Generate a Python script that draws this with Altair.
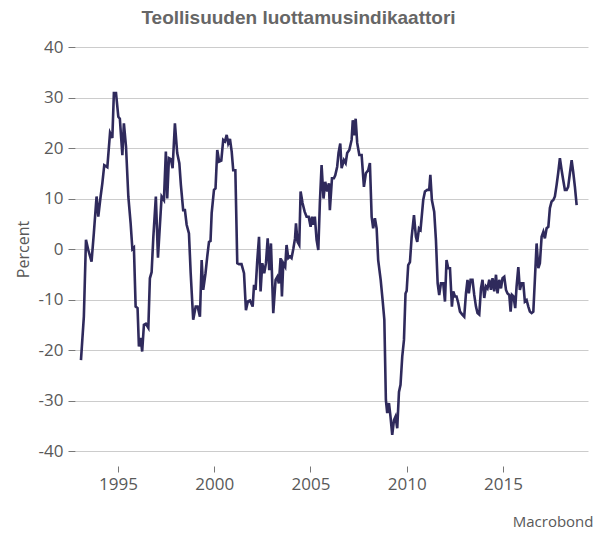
import altair as alt
import pandas as pd

# Values (decimal year, percent balance)
yrs_a = [1993.08, 1993.23, 1993.34, 1993.46, 1993.63, 1993.75, 1993.89, 1993.98, 1994.10, 1994.19,
         1994.29, 1994.45, 1994.59, 1994.71, 1994.79, 1994.90, 1995.02, 1995.10, 1995.23, 1995.31,
         1995.42, 1995.54, 1995.66, 1995.75, 1995.83, 1995.92, 1996.02, 1996.09, 1996.18, 1996.26,
         1996.35, 1996.45, 1996.58, 1996.66, 1996.75, 1996.84, 1996.97, 1997.08]
val_a = [-22, -13.4, 1.8, -0.2, -2.5, 3.2, 10.4, 6.4, 10.4, 13,
         16.6, 16.2, 23, 22, 30.9, 30.9, 26.2, 25.8, 18.6, 24.9,
         20.3, 10.4, 5.1, 0, 0.3, -11.4, -11.7, -19.3, -17.6, -20.3,
         -15, -14.8, -15.6, -5.8, -4.6, 2.4, 10.4, -1.7]

yrs_b = [1997.27, 1997.39, 1997.49, 1997.56, 1997.65, 1997.75, 1997.84, 1997.96, 1998.08, 1998.19,
         1998.27, 1998.39, 1998.48, 1998.57, 1998.69, 1998.78, 1998.91, 1999.04, 1999.14, 1999.26,
         1999.35, 1999.43, 1999.55, 1999.64, 1999.73, 1999.81, 1999.87, 1999.99, 2000.07, 2000.16,
         2000.26, 2000.37, 2000.47, 2000.56, 2000.65, 2000.73, 2000.82, 2000.91, 2000.99, 2001.10,
         2001.20, 2001.29, 2001.42, 2001.55, 2001.65, 2001.75, 2001.86]
val_b = [10.4, 9.7, 19.3, 10, 18, 17.8, 16, 24.9, 19, 17,
         12.7, 7.7, 7.7, 4.8, 3.1, -4.8, -14, -11.4, -11.4, -13.4,
         -2.2, -8.1, -4.8, -1.5, 1.4, 1.6, 7.1, 11.7, 12, 19.6,
         17.3, 17.5, 21.6, 21.3, 22.6, 20.9, 21.8, 19.3, 15.6, 15.6,
         -2.8, -3, -3, -4.8, -12.1, -10.4, -10.2]

yrs_c = [2002.00, 2002.07, 2002.15, 2002.24, 2002.33, 2002.41, 2002.50, 2002.60, 2002.69, 2002.78,
         2002.86, 2002.95, 2003.07, 2003.19, 2003.28, 2003.36, 2003.45, 2003.52, 2003.59, 2003.69,
         2003.76, 2003.85, 2003.94, 2004.02, 2004.11, 2004.20, 2004.25, 2004.33, 2004.42, 2004.49,
         2004.59, 2004.70, 2004.80, 2004.91, 2005.01, 2005.08, 2005.15, 2005.23, 2005.32, 2005.41,
         2005.49, 2005.58, 2005.68, 2005.77, 2005.87, 2005.96, 2006.01, 2006.12, 2006.22, 2006.29,
         2006.39, 2006.46, 2006.55]
val_c = [-11.4, -7.1, -8.1, -2.2, 2.4, -8.4, -2.8, -4.8, -2.8, 2.1,
         -4.2, 1.1, -12.7, -6.1, -5.5, -6.8, -1.8, -9.4, -2.8, -3.5,
         0.8, -1.8, -1.5, -1.8, 0, 2.1, 5.1, 1.4, 0.8, 11.4,
         9.1, 7.4, 6.4, 6.4, 4.4, 6.4, 4.8, 6.4, 1.8, -0.2,
         9.1, 16.6, 10, 13.3, 11.4, 13, 7.7, 14, 14, 14.6,
         16.3, 19, 20.9]

yrs_d = [2006.62, 2006.74, 2006.83, 2006.91, 2007.02, 2007.14, 2007.20, 2007.27, 2007.35, 2007.43,
         2007.54, 2007.66, 2007.78, 2007.88, 2008.00, 2008.09, 2008.18, 2008.26, 2008.35, 2008.44,
         2008.52, 2008.65, 2008.75, 2008.84, 2008.92, 2008.99, 2009.08, 2009.16, 2009.25, 2009.34,
         2009.42, 2009.51, 2009.60, 2009.68, 2009.77, 2009.86, 2009.94, 2010.00, 2010.08, 2010.17,
         2010.26, 2010.38, 2010.48, 2010.55, 2010.64]
val_d = [16, 17.6, 17, 19, 19.6, 21.6, 25.5, 22.5, 25.8, 21,
         18.6, 18.6, 12.3, 15, 15.6, 17, 6.4, 4.1, 6.1, 4.1,
         -2.2, -6.1, -10.1, -14, -29.9, -32.5, -30.5, -33.2, -36.8, -33.9,
         -33.2, -35.5, -28.3, -26.9, -21.3, -18, -8.8, -8.3, -3.2, -2.6,
         2.4, 6.7, 2.4, 1.4, 4.1]

yrs_e = [2010.72, 2010.86, 2010.95, 2011.07, 2011.17, 2011.23, 2011.31, 2011.43, 2011.52, 2011.61,
         2011.69, 2011.78, 2011.90, 2011.99, 2012.07, 2012.16, 2012.25, 2012.35, 2012.42, 2012.51,
         2012.59, 2012.68, 2012.77, 2012.89, 2012.99, 2013.08, 2013.16, 2013.23, 2013.32, 2013.42,
         2013.51, 2013.60, 2013.68, 2013.77, 2013.86, 2013.94, 2014.03, 2014.12, 2014.20, 2014.29,
         2014.38, 2014.46, 2014.55, 2014.64, 2014.72, 2014.81, 2014.90, 2014.98, 2015.07, 2015.16,
         2015.24, 2015.33, 2015.40, 2015.47, 2015.55, 2015.64, 2015.71, 2015.80]
val_e = [3.8, 9.7, 11.4, 11.7, 11.7, 14.7, 9.7, 7.4, 1.8, -6.8,
         -9.1, -6.8, -6.8, -10.4, -2.2, -3.8, -3.8, -11.4, -8.4, -9.4,
         -9.4, -10.7, -12.4, -13, -13.4, -8.8, -6.1, -8.8, -6.1, -6.1,
         -9.1, -11.4, -12.7, -13, -7.8, -6.1, -9.7, -7.4, -7.8, -6.1,
         -8.1, -5.8, -8.4, -5.1, -8.8, -6.1, -7.8, -5.8, -5.5, -8.1,
         -8.8, -9.1, -12.4, -9.1, -9.4, -11.7, -7.4, -3.6]

yrs_f = [2015.88, 2015.97, 2016.06, 2016.14, 2016.23, 2016.32, 2016.40, 2016.49, 2016.58, 2016.66,
         2016.75, 2016.84, 2016.92, 2017.01, 2017.10, 2017.18, 2017.27, 2017.36, 2017.44, 2017.53,
         2017.62, 2017.70, 2017.79, 2017.87, 2017.96, 2018.05, 2018.13, 2018.22, 2018.31, 2018.39,
         2018.48, 2018.57, 2018.65, 2018.74, 2018.83]
val_f = [-8.1, -6.8, -6.8, -10.4, -10.1, -11.4, -12.4, -12.7, -12.4, -6.1,
         1.1, -3.8, -2.8, 2.4, 3.4, 2.1, 4.1, 4.4, 8.1, 9.4,
         9.7, 10.4, 12.7, 15, 18, 15.6, 13.7, 11.7, 11.7, 12.3,
         15, 17.6, 15.3, 12.3, 8.7]

x_ticks = [1995, 2000, 2005, 2010, 2015]
y_ticks = [-40, -30, -20, -10, 0, 10, 20, 30, 40]

years = yrs_a + yrs_b + yrs_c + yrs_d + yrs_e + yrs_f
values = val_a + val_b + val_c + val_d + val_e + val_f
df = pd.DataFrame({"year": years, "value": values})

txt = "#595959"
font = "Open Sans"

chart = alt.Chart(df).mark_line(color="#2f2a5c", strokeWidth=2.6).encode(
    x=alt.X("year:Q",
            scale=alt.Scale(domain=[1992.77, 2019.42], nice=False, zero=False),
            axis=alt.Axis(values=x_ticks, format="d", grid=False, domain=False,
                          tickSize=6, tickColor="#777777", offset=15,
                          labelFont=font, labelFontSize=17, labelColor=txt, labelPadding=4,
                          title="Macrobond", titleFont=font, titleFontSize=15,
                          titleFontWeight="normal", titleColor=txt,
                          titleAlign="right", titleBaseline="alphabetic",
                          titleX=518, titleY=60)),
    y=alt.Y("value:Q",
            scale=alt.Scale(domain=[-40, 40], nice=False),
            axis=alt.Axis(values=y_ticks, grid=True, gridColor="#cccccc", gridWidth=1,
                          domain=False, tickSize=7, tickColor="#777777",
                          labelExpr="'' + datum.value",
                          labelFont=font, labelFontSize=17, labelColor=txt, labelPadding=5,
                          title="Percent", titleFont=font, titleFontSize=16,
                          titleFontWeight="normal", titleColor=txt, titlePadding=7)),
).properties(
    width=513,
    height=404,
    title=alt.TitleParams("Teollisuuden luottamusindikaattori", font="Liberation Sans",
                          fontSize=19, fontWeight="bold", color="#666666",
                          anchor="middle", dx=-33, offset=10),
    autosize=alt.AutoSizeParams(type="none"),
    padding={"left": 67, "top": 39, "right": 7, "bottom": 78},
).configure_view(stroke=None)

chart.save("out.html", embed_options={"renderer": "svg", "actions": False})
